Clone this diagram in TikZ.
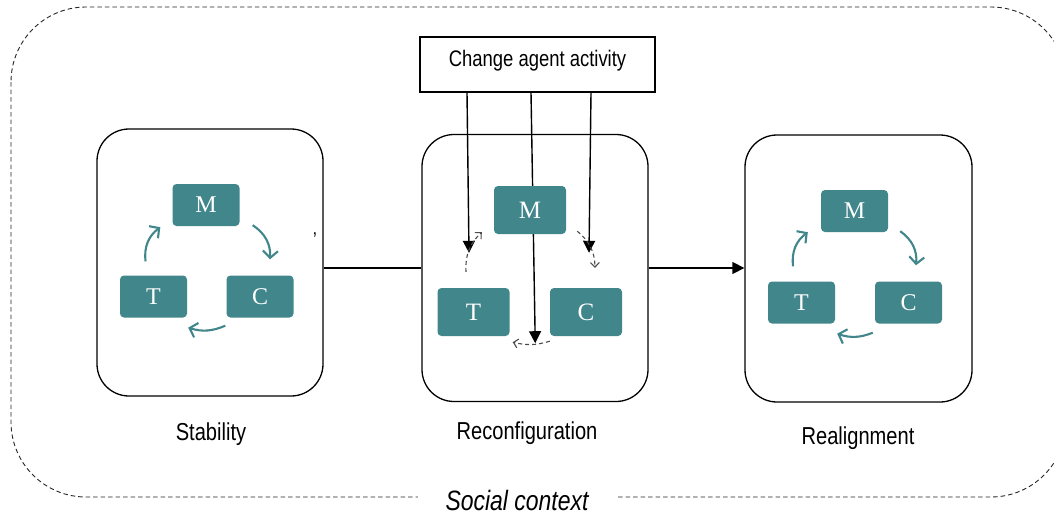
\documentclass[tikz,border=0pt]{standalone}
\usepackage{fontspec}
\setmainfont{Liberation Serif}
\newfontfamily\narrowsans[FakeStretch=0.82]{Liberation Sans}
\usetikzlibrary{arrows.meta,calc}
\definecolor{tealbox}{RGB}{65,134,139}
\pgfdeclarelayer{mid}
\pgfsetlayers{mid,main}

\begin{document}
\begin{tikzpicture}[x=1pt,y=-1pt,
  stage/.style={draw, line width=1.3pt, rounded corners=32pt,
    minimum width=226pt, minimum height=267pt, inner sep=0pt},
  tbox/.style={fill=tealbox, rounded corners=4pt, text=white,
    font=\fontsize{24}{24}\selectfont, inner sep=0pt,
    minimum width=67pt, minimum height=42pt},
  bigbox/.style={minimum width=72pt, minimum height=48pt,
    font=\fontsize{25}{25}\selectfont},
  cyc/.style={draw=tealbox, line width=2.1pt,
    -{Straight Barb[length=7pt,width=15pt]}},
  dcyc/.style={draw=black!70, line width=1.1pt, dash pattern=on 4pt off 3pt,
    -{Straight Barb[length=4.5pt,width=9pt]}},
  push/.style={line width=1.4pt, -{Triangle[length=12pt,width=12pt]}},
  lbl/.style={font=\narrowsans\fontsize{24.5}{24.5}\selectfont, anchor=base},
]
\useasboundingbox (0,0) rectangle (1054,517);

% social context frame
\draw[line width=0.9pt, dash pattern=on 4.5pt off 3pt, black!85,
  rounded corners=75pt] (11,7) rectangle (1066,497);
\node[font=\narrowsans\itshape\fontsize{28}{28}\selectfont, fill=white,
  inner xsep=28pt, inner ysep=2pt, anchor=base] (SC) at (517,510) {Social context};

% three stages
\node[stage] (S1) at (210,262.5) {};
\node[stage] (S2) at (535,268) {};
\node[stage, minimum width=227pt] (S3) at (858.5,268.5) {};

% stability
\node[tbox] (M1) at (206,205) {M};
\node[tbox] (T1) at (153.5,296.5) {T};
\node[tbox] (C1) at (260,296.5) {C};

% reconfiguration
\node[tbox,bigbox] (M2) at (530,210) {M};
\node[tbox,bigbox] (T2) at (473.5,312) {T};
\node[tbox,bigbox] (C2) at (586,312) {C};

% realignment
\node[tbox] (M3) at (854.5,211) {M};
\node[tbox] (T3) at (801.5,302.5) {T};
\node[tbox] (C3) at (908.5,302.5) {C};

% change agent
\node[draw, line width=1.3pt, minimum width=235pt, minimum height=55pt,
  text height=16pt, text depth=13pt,
  font=\narrowsans\fontsize{22.5}{22.5}\selectfont] (A) at (537.5,64.5)
  {Change agent activity};

\coordinate (mtip) at ($(T2.south east)!0.5!(C2.south west)+(5.5,7)$);
\begin{pgfonlayer}{mid}
  \draw[push] ([xshift=-70.5pt]A.south) -- ([shift={(-4.5,-35)}]T2.north);
  \draw[push] ([xshift=-6.5pt]A.south) -- (mtip);
  \draw[push] ([xshift=53.5pt]A.south) -- ([shift={(3,-35)}]C2.north);
\end{pgfonlayer}

% links between stages
\draw[line width=1.4pt] (S1.east |- S2.west) -- (S2.west);
\draw[push] (S2.east) -- (S3.west |- S2.east);

% cycles
\draw[cyc] ([shift={(-8,-14)}]T1.north) to[bend left=30] ([shift={(-12,1)}]M1.south west);
\draw[cyc] ([shift={(13,-1)}]M1.south east) to[bend left=30] ([shift={(10,-16)}]C1.north);
\draw[cyc] ([shift={(-1,8)}]C1.south west) to[bend left=20] ([shift={(1,10)}]T1.south east);

\draw[cyc] ([shift={(-8.5,-15)}]T3.north) to[bend left=30] ([shift={(-13,0)}]M3.south west);
\draw[cyc] ([shift={(12,-1)}]M3.south east) to[bend left=30] ([shift={(7.5,-16)}]C3.north);
\draw[cyc] ([shift={(-2,9)}]C3.south west) to[bend left=20] ([shift={(2,10)}]T3.south east);

\draw[dcyc] ([shift={(-7.5,-16)}]T2.north) to[bend left=25] ([shift={(-12,-2)}]M2.south west);
\draw[dcyc] ([shift={(11,-3)}]M2.south east) to[bend left=25] ([shift={(9,-20)}]C2.north);
\draw[dcyc] ([shift={(0,5)}]C2.south west) to[bend left=15] ([shift={(3,6)}]T2.south east);

% stage names
\node[lbl] (L1) at (211,440) {Stability};
\node[lbl] (L2) at (527,439) {Reconfiguration};
\node[lbl] (L3) at (858,444) {Realignment};

\node[font=\narrowsans\fontsize{20}{20}\selectfont, anchor=base] (tick) at (315,246) {’};
\end{tikzpicture}
\end{document}
